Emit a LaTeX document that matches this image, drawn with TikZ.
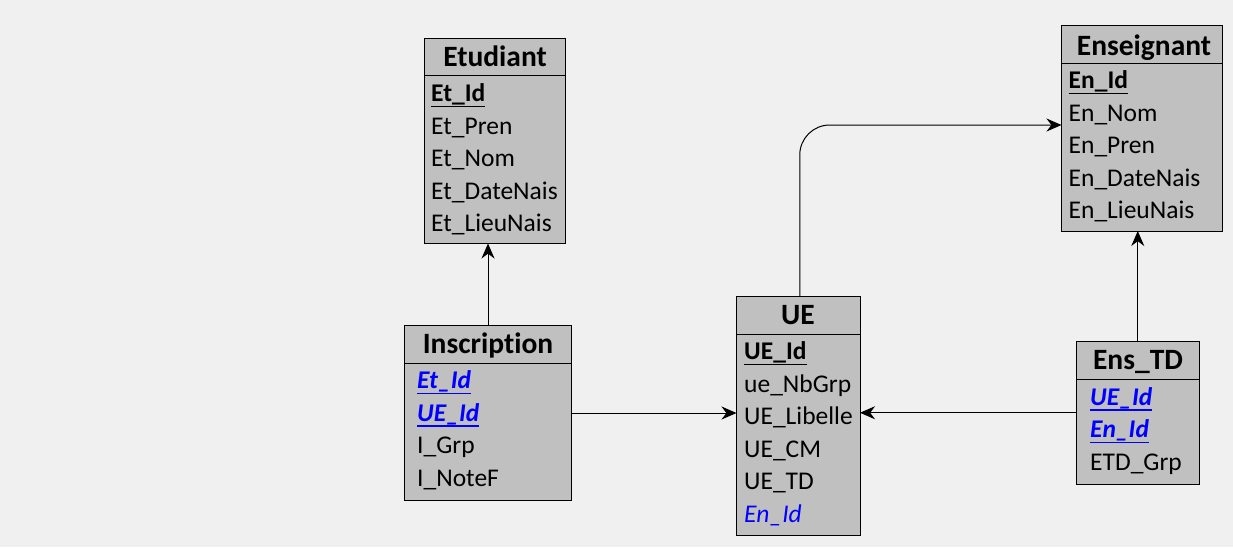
\documentclass[tikz,border=0pt]{standalone}
\usepackage{fontspec}
\setmainfont{Carlito}[Ligatures={NoCommon}]
\usetikzlibrary{arrows.meta}
\definecolor{bg}{HTML}{F0F0F0}
\definecolor{boxfill}{HTML}{C0C0C0}
\definecolor{fkblue}{HTML}{0000FF}
\tikzset{
 tbl/.style={draw=black, line width=1pt, fill=boxfill, anchor=north west, inner sep=0pt, outer sep=0pt},
 hdr/.style={anchor=base, inner sep=0pt, font=\fontsize{29.5}{31}\selectfont\bfseries},
 fld/.style={anchor=base west, inner sep=0pt, font=\fontsize{25.5}{27}\selectfont},
 pk/.style={anchor=base west, inner sep=0pt, font=\fontsize{25.5}{27}\selectfont\bfseries},
 fk/.style={anchor=base west, inner sep=0pt, text=fkblue, font=\fontsize{25.5}{27}\selectfont\bfseries\itshape},
 fkplain/.style={anchor=base west, inner sep=0pt, text=fkblue, font=\fontsize{25.5}{27}\selectfont\itshape},
 sepline/.style={draw=black, line width=1pt},
 ulk/.style={draw=black, line width=1.5pt},
 ulb/.style={draw=fkblue, line width=1.5pt},
 conn/.style={draw=black, line width=1pt, -{Stealth[length=15pt,width=13pt]}},
}
\begin{document}
\begin{tikzpicture}[x=1pt,y=-1pt]
\fill[bg] (0,0) rectangle (1233,547);
\useasboundingbox (0,0) rectangle (1233,547);

% Etudiant
\node[tbl, minimum width=141pt, minimum height=205pt] (etu) at (424.5,38.5) {};
\draw[sepline] ([yshift=-36.5pt]etu.north west) -- ([yshift=-36.5pt]etu.north east);
\node[hdr] (etuH) at (495,66) {Etudiant};
\node[pk] (etu1) at (431,101.5) {Et\_Id};
\node[fld] (etu2) at (431,134) {Et\_Pren};
\node[fld] (etu3) at (431,166.5) {Et\_Nom};
\node[fld] (etu4) at (431,199) {Et\_DateNais};
\node[fld] (etu5) at (431,231.5) {Et\_LieuNais};
\draw[ulk] ([yshift=-5pt]etu1.base west) -- ([yshift=-5pt]etu1.base east);

% Inscription
\node[tbl, minimum width=167pt, minimum height=175pt] (ins) at (404.5,325.5) {};
\draw[sepline] ([yshift=-37.5pt]ins.north west) -- ([yshift=-37.5pt]ins.north east);
\node[hdr] (insH) at (488,353) {Inscription};
\node[fk] (ins1) at (417,388.5) {Et\_Id};
\node[fk] (ins2) at (417,421) {UE\_Id};
\node[fld] (ins3) at (417,453.5) {I\_Grp};
\node[fld] (ins4) at (417,486) {I\_NoteF};
\draw[ulb] ([yshift=-5pt]ins1.base west) -- ([yshift=-5pt]ins1.base east);
\draw[ulb] ([yshift=-5pt]ins2.base west) -- ([yshift=-5pt]ins2.base east);

% UE
\node[tbl, minimum width=123.5pt, minimum height=239pt] (ue) at (736.5,296.5) {};
\draw[sepline] ([yshift=-37.5pt]ue.north west) -- ([yshift=-37.5pt]ue.north east);
\node[hdr] (ueH) at (798,324) {UE};
\node[pk] (ue1) at (744,359.5) {UE\_Id};
\node[fld] (ue2) at (744,392) {ue\_NbGrp};
\node[fld] (ue3) at (744,424.5) {UE\_Libelle};
\node[fld] (ue4) at (744,457) {UE\_CM};
\node[fld] (ue5) at (744,489.5) {UE\_TD};
\node[fkplain] (ue6) at (744,522) {En\_Id};
\draw[ulk] ([yshift=-5pt]ue1.base west) -- ([yshift=-5pt]ue1.base east);

% Enseignant
\node[tbl, minimum width=160.5pt, minimum height=206pt] (ens) at (1061.5,25) {};
\draw[sepline] ([yshift=-38.5pt]ens.north west) -- ([yshift=-38.5pt]ens.north east);
\node[hdr] (ensH) at (1144,55) {Enseignant};
\node[pk] (ens1) at (1068.5,88.5) {En\_Id};
\node[fld] (ens2) at (1068.5,121) {En\_Nom};
\node[fld] (ens3) at (1068.5,153.5) {En\_Pren};
\node[fld] (ens4) at (1068.5,186) {En\_DateNais};
\node[fld] (ens5) at (1068.5,218.5) {En\_LieuNais};
\draw[ulk] ([yshift=-5pt]ens1.base west) -- ([yshift=-5pt]ens1.base east);

% Ens_TD
\node[tbl, minimum width=122.5pt, minimum height=142.5pt] (etd) at (1076.5,341.5) {};
\draw[sepline] ([yshift=-38pt]etd.north west) -- ([yshift=-38pt]etd.north east);
\node[hdr] (etdH) at (1138,369) {Ens\_TD};
\node[fk] (etd1) at (1090,405) {UE\_Id};
\node[fk] (etd2) at (1090,437.5) {En\_Id};
\node[fld] (etd3) at (1090,470) {ETD\_Grp};
\draw[ulb] ([yshift=-5pt]etd1.base west) -- ([yshift=-5pt]etd1.base east);
\draw[ulb] ([yshift=-5pt]etd2.base west) -- ([yshift=-5pt]etd2.base east);

% connectors
\draw[conn] (ins.north) -- (ins.north |- etu.south);
\draw[conn] (ins.east) -- (ins.east -| ue.west);
\draw[conn] (etd.west) -- (etd.west -| ue.east);
\draw[conn] (etd.north) -- (etd.north |- ens.south);
\draw[conn, rounded corners=30pt] ([xshift=1.5pt]ue.north) |- ([yshift=3pt]ens.west);
\end{tikzpicture}
\end{document}
